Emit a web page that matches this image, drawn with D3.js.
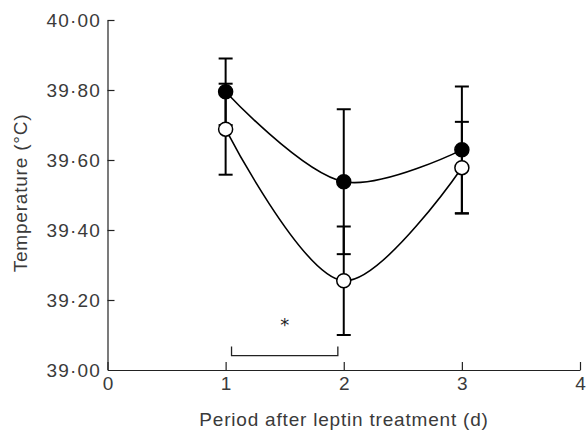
<!DOCTYPE html>
<html><head><meta charset="utf-8">
<script src="https://cdn.jsdelivr.net/npm/d3@7"></script>
<style>body{margin:0;background:#fff}svg{display:block}</style>
</head><body><svg id="c" width="586" height="431"></svg>
<script>
const days = [1, 2, 3];
const leptinMean = [39.795, 39.538, 39.629];   // filled circles
const leptinSE   = [0.095, 0.207, 0.181];
const controlMean = [39.688, 39.255, 39.578];  // open circles
const controlSE   = [0.130, 0.155, 0.131];
const yTicks = [39.0, 39.2, 39.4, 39.6, 39.8, 40.0];
const xTicks = [0, 1, 2, 3, 4];
const sigFrom = 1.05, sigTo = 1.95, sigLow = 39.041, sigHigh = 39.067, sigStarY = 39.13;

const svg = d3.select("#c");
const font = "Liberation Sans, Arial, sans-serif";
const fs = 19, ls = 0.8, tc = "#3a3a3a";
const x = d3.scaleLinear().domain([0, 4]).range([107.5, 580]);
const y = d3.scaleLinear().domain([39, 40]).range([370, 20]);
const fmt = v => v.toFixed(2).replace(".", "\u00b7");

const gy = svg.append("g").attr("transform", `translate(${x(0)},0)`)
  .call(d3.axisLeft(y).tickValues(yTicks).tickFormat(fmt).tickSizeInner(-7).tickSizeOuter(0).tickPadding(6.5));
const gx = svg.append("g").attr("transform", `translate(0,${y(39)})`)
  .call(d3.axisBottom(x).tickValues(xTicks).tickFormat(d3.format("d")).tickSizeInner(-8).tickSizeOuter(0).tickPadding(6.5));
[gy, gx].forEach(g => {
  g.selectAll("path,line").attr("stroke", "#222").attr("stroke-width", 1.2);
  g.selectAll("text").attr("font-family", font).attr("font-size", fs).attr("fill", tc).attr("letter-spacing", ls);
});
gy.selectAll("text").attr("letter-spacing", 1.2);
gx.selectAll("text").attr("dx", ls / 2);
gy.select(".tick:first-of-type line").remove();

svg.append("text").attr("transform", `translate(27,193) rotate(-90)`)
  .attr("text-anchor", "middle").attr("letter-spacing", ls)
  .attr("font-family", font).attr("font-size", fs).attr("fill", tc).text("Temperature (\u00b0C)");
svg.append("text").attr("x", 344).attr("y", 425.7)
  .attr("text-anchor", "middle").attr("letter-spacing", ls)
  .attr("font-family", font).attr("font-size", fs).attr("fill", tc).text("Period after leptin treatment (d)");

const line = d3.line().x((d, i) => x(days[i])).y(d => y(d)).curve(d3.curveCatmullRom.alpha(0.5));
const series = [
  {m: controlMean, se: controlSE, fill: "#fff"},
  {m: leptinMean, se: leptinSE, fill: "#000"}
];
series.forEach(s => {
  s.m.forEach((v, i) => {
    const cx = x(days[i]);
    svg.append("line").attr("x1", cx).attr("x2", cx).attr("y1", y(v - s.se[i])).attr("y2", y(v + s.se[i]))
      .attr("stroke", "#000").attr("stroke-width", 2);
    [v - s.se[i], v + s.se[i]].forEach(e => svg.append("line")
      .attr("x1", cx - 7).attr("x2", cx + 7).attr("y1", y(e)).attr("y2", y(e))
      .attr("stroke", "#000").attr("stroke-width", 2));
  });
});
series.forEach(s => {
  svg.append("path").attr("d", line(s.m)).attr("fill", "none").attr("stroke", "#000").attr("stroke-width", 1.6);
});
series.forEach(s => {
  s.m.forEach((v, i) => svg.append("circle").attr("cx", x(days[i])).attr("cy", y(v)).attr("r", 7)
    .attr("fill", s.fill).attr("stroke", "#000").attr("stroke-width", 1.5));
});

svg.append("path")
  .attr("d", `M${x(sigFrom)},${y(sigHigh)}V${y(sigLow)}H${x(sigTo)}V${y(sigHigh)}`)
  .attr("fill", "none").attr("stroke", "#222").attr("stroke-width", 1.3);
svg.append("text").attr("x", x((sigFrom + sigTo) / 2)).attr("y", y(sigStarY))
  .attr("text-anchor", "middle").attr("dominant-baseline", "central")
  .attr("font-family", "DejaVu Sans, sans-serif").attr("font-size", 18).attr("fill", "#222").text("*");
</script></body></html>
